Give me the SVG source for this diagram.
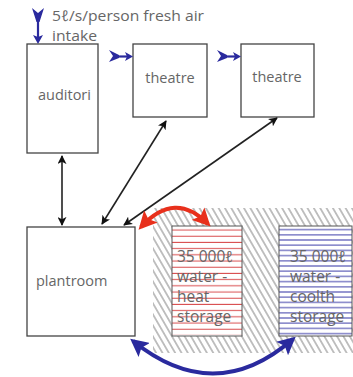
<svg xmlns="http://www.w3.org/2000/svg" width="353" height="377" viewBox="0 0 353 377">
<style>
.box{fill:#fff;stroke:#444;stroke-width:1.3}
.t{font-family:"Open Sans","Liberation Sans",sans-serif;font-size:14.5px;fill:#666}
.s{font-size:15.5px}
.conn{stroke:#222;stroke-width:1.6;fill:none}
.bf{fill:#2a2a9e}
</style>
<defs>
<marker id="ah" viewBox="0 0 10 10" refX="9" refY="5" markerWidth="9" markerHeight="9" markerUnits="userSpaceOnUse" orient="auto-start-reverse">
<path d="M0,0 L10,5 L0,10 L2.5,5 Z" fill="#111"/>
</marker>
<marker id="ahr" viewBox="0 0 10 10" refX="8" refY="5" markerWidth="4.5" markerHeight="4.5" orient="auto-start-reverse">
<path d="M0,0 L10,5 L0,10 L2,5 Z" fill="#e8301c"/>
</marker>
<marker id="ahb" viewBox="0 0 10 10" refX="8" refY="5" markerWidth="4.5" markerHeight="4.5" orient="auto-start-reverse">
<path d="M0,0 L10,5 L0,10 L2,5 Z" fill="#2a2a9e"/>
</marker>
<pattern id="hatch" patternUnits="userSpaceOnUse" width="5.5" height="5.5" patternTransform="rotate(-30)">
<line x1="2.75" y1="-1" x2="2.75" y2="6.5" stroke="#444" stroke-width="0.65"/>
</pattern>
<pattern id="redl" patternUnits="userSpaceOnUse" width="10" height="6.2" y="227">
<line x1="0" y1="3" x2="10" y2="3" stroke="#d8484a" stroke-width="1"/>
</pattern>
<pattern id="bluel" patternUnits="userSpaceOnUse" width="10" height="5.2" y="227">
<line x1="0" y1="2.6" x2="10" y2="2.6" stroke="#3a3aa8" stroke-width="1"/>
</pattern>
</defs>

<g id="hatched-ground">
<rect x="153" y="208" width="200" height="145" fill="url(#hatch)"/>
</g>

<g id="intake">
<path class="bf" d="M32,8 L38,13 L44,8 L39.5,22 L36.5,22 Z"/>
<line x1="38" y1="18" x2="38" y2="38" stroke="#2a2a9e" stroke-width="2.2"/>
<path class="bf" d="M33,35 L38,44 L43,35 L38,37 Z"/>
<text class="t" x="52" y="21" textLength="152" lengthAdjust="spacingAndGlyphs">5ℓ/s/person fresh air</text>
<text class="t" x="52" y="41" textLength="45" lengthAdjust="spacingAndGlyphs">intake</text>
</g>

<g id="auditori">
<rect class="box" x="27" y="44" width="71" height="109"/>
<text class="t" x="38" y="100">auditori</text>
</g>

<g id="theatre1">
<rect class="box" x="133" y="44" width="74" height="73"/>
<text class="t" x="170" y="83" text-anchor="middle">theatre</text>
<path class="bf" d="M109,50 L119,55 L119,58 L109,62 L113,56 Z"/>
<line x1="117" y1="56.5" x2="128" y2="56.5" stroke="#2a2a9e" stroke-width="2.2"/>
<path class="bf" d="M125,52 L133,56.5 L125,61 L127,56.5 Z"/>
</g>

<g id="theatre2">
<rect class="box" x="241" y="44" width="73" height="73"/>
<text class="t" x="277" y="82" text-anchor="middle">theatre</text>
<path class="bf" d="M217,50 L227,55 L227,58 L217,62 L221,56 Z"/>
<line x1="225" y1="56.5" x2="236" y2="56.5" stroke="#2a2a9e" stroke-width="2.2"/>
<path class="bf" d="M233,52 L241,56.5 L233,61 L235,56.5 Z"/>
</g>

<g id="plantroom">
<rect class="box" x="27" y="227" width="108" height="109"/>
<text class="t" x="36" y="286">plantroom</text>
</g>

<g id="heat-storage">
<rect x="172" y="226" width="70" height="110" fill="#fff"/>
<rect x="172" y="227" width="70" height="108" fill="url(#redl)"/>
<rect x="172" y="226" width="70" height="110" fill="none" stroke="#555" stroke-width="1"/>
<text class="t s" x="177" y="262">35 000ℓ</text>
<text class="t s" x="177" y="282">water -</text>
<text class="t s" x="177" y="302">heat</text>
<text class="t s" x="177" y="322">storage</text>
</g>

<g id="coolth-storage">
<rect x="279" y="226" width="73" height="110" fill="#fff"/>
<rect x="279" y="227" width="73" height="108" fill="url(#bluel)"/>
<rect x="279" y="226" width="73" height="110" fill="none" stroke="#555" stroke-width="1"/>
<text class="t s" x="290" y="262">35 000ℓ</text>
<text class="t s" x="290" y="282">water -</text>
<text class="t s" x="290" y="302">coolth</text>
<text class="t s" x="290" y="322">storage</text>
</g>

<g id="connectors">
<line class="conn" x1="62" y1="156" x2="62" y2="225" marker-start="url(#ah)" marker-end="url(#ah)"/>
<line class="conn" x1="166" y1="121" x2="102" y2="224" marker-start="url(#ah)" marker-end="url(#ah)"/>
<line class="conn" x1="277" y1="118" x2="124" y2="225" marker-start="url(#ah)" marker-end="url(#ah)"/>
<path d="M141,227 Q175,190 208,224" stroke="#e8301c" stroke-width="4" fill="none" marker-start="url(#ahr)" marker-end="url(#ahr)"/>
<path d="M133,341 Q215,407 293,339" stroke="#2a2a9e" stroke-width="4" fill="none" marker-start="url(#ahb)" marker-end="url(#ahb)"/>
</g>
</svg>
